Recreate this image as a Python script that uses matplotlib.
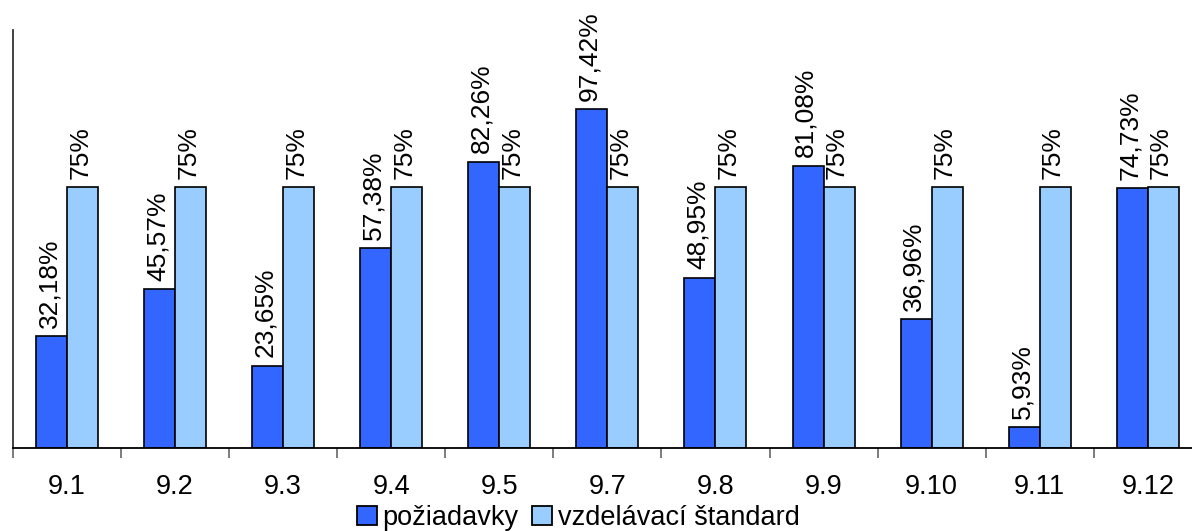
import matplotlib
matplotlib.use("Agg")
import matplotlib.pyplot as plt
import numpy as np
from matplotlib.patches import Patch

categories = ["9.1", "9.2", "9.3", "9.4", "9.5", "9.7", "9.8", "9.9", "9.10", "9.11", "9.12"]
poziadavky = [32.18, 45.57, 23.65, 57.38, 82.26, 97.42, 48.95, 81.08, 36.96, 5.93, 74.73]
standard = [75, 75, 75, 75, 75, 75, 75, 75, 75, 75, 75]
labels_p = ["32,18%", "45,57%", "23,65%", "57,38%", "82,26%", "97,42%", "48,95%", "81,08%", "36,96%", "5,93%", "74,73%"]
labels_s = ["75%"] * 11

plt.rcParams['font.family'] = ['Liberation Sans', 'DejaVu Sans']

W, H = 1192, 531
fig = plt.figure(figsize=(W / 100, H / 100), dpi=100)
left, right = 13, 1201.8
bottom, top = 448, 30.4
ax = fig.add_axes([left / W, 1 - bottom / H, (right - left) / W, (bottom - top) / H])

x = np.arange(len(categories))
bw = 31 / 108
c1 = "#3366FF"
c2 = "#99CCFF"
ax.bar(x - bw / 2, poziadavky, bw, color=c1, edgecolor="black", linewidth=1.2)
ax.bar(x + bw / 2, standard, bw, color=c2, edgecolor="black", linewidth=1.2)

dx = -0.02
for xi, v, t in zip(x - bw / 2, poziadavky, labels_p):
    ax.text(xi + dx, v + 2.4, t, rotation=90, ha="center", va="bottom", fontsize=19)
for xi, v, t in zip(x + bw / 2, standard, labels_s):
    ax.text(xi + dx, v + 2.4, t, rotation=90, ha="center", va="bottom", fontsize=19)

ax.set_xlim(-0.5, len(categories) - 0.5)
ax.set_ylim(0, 120)
ax.set_yticks([])
ax.set_xticks(x)
ax.set_xticklabels(categories, fontsize=19.5)
ax.set_xticks(np.arange(len(categories) + 1) - 0.5, minor=True)
ax.tick_params(axis="x", which="major", length=0, pad=19)
ax.tick_params(axis="x", which="minor", length=7, color="#666666", width=1.2)
for s in ["top", "right"]:
    ax.spines[s].set_visible(False)
ax.spines["left"].set_color("#333333")
ax.spines["left"].set_linewidth(1.3)
ax.spines["bottom"].set_color("black")
ax.spines["bottom"].set_linewidth(1.3)
ax.patch.set_visible(False)

handles = [Patch(facecolor=c1, edgecolor="black", linewidth=1.3),
           Patch(facecolor=c2, edgecolor="black", linewidth=1.3)]
fig.legend(handles, ["požiadavky", "vzdelávací štandard"], loc="center",
           bbox_to_anchor=(578 / W, 1 - 518 / H), ncol=2, frameon=False, fontsize=19.5,
           handlelength=0.75, handleheight=0.75, handletextpad=0.2, columnspacing=0.5,
           borderpad=0)

fig.savefig("out.png", dpi=100)
